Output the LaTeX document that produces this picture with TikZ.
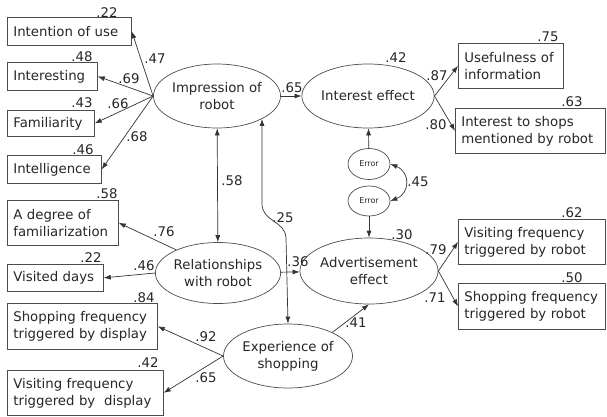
\documentclass[tikz,border=0pt]{standalone}
\usepackage{fontspec}
\setmainfont{DejaVu Sans}
\usetikzlibrary{shapes.geometric,arrows.meta,calc}
\tikzset{
  lat/.style={draw=black!70, line width=0.7pt, ellipse, inner sep=0pt, align=center, minimum width=122pt, minimum height=64pt},
  obs/.style 2 args={draw=black!70, line width=0.7pt, anchor=north west, align=left, inner xsep=6pt, inner ysep=0pt, text width=#1pt-12pt, minimum height=#2pt},
  err/.style={draw=black!70, line width=0.7pt, ellipse, inner sep=0pt, minimum width=42pt, minimum height=31pt, font=\fontsize{8}{9}\selectfont},
  coef/.style={inner sep=0pt},
  link/.style={->, draw=black!80, line width=0.7pt}
}
\begin{document}
\begin{tikzpicture}[x=1pt,y=-1pt,>={Latex[length=7pt,width=5pt]},text=black!85,font=\fontsize{13.3}{17}\selectfont]
  \useasboundingbox (0,0) rectangle (607,416);
  % latent variables
  \node[lat] (imp) at (217,96) {Impression of\\robot};
  \node[lat] (int) at (368,96) {Interest effect};
  \node[lat, minimum height=61pt] (rel) at (218,273) {Relationships\\with robot};
  \node[lat, minimum height=66pt] (adv) at (369,271) {Advertisement\\effect};
  \node[lat] (exp) at (288,356) {Experience of\\shopping};
  \node[err] (e1) at (369,164) {Error};
  \node[err, minimum height=30pt] (e2) at (369,201) {Error};
  % observed variables
  \node[obs={124}{28}] (use) at (7,17) {Intention of use};
  \node[obs={90}{28}] (intr) at (7,62) {Interesting};
  \node[obs={87}{26}] (fam) at (7,110) {Familiarity};
  \node[obs={94}{28}] (intel) at (7,155) {Intelligence};
  \node[obs={111}{45}] (deg) at (7,200) {A degree of\\familiarization};
  \node[obs={96}{27}] (vis) at (7,264) {Visited days};
  \node[obs={150}{46}] (shd) at (7,303) {Shopping frequency\\triggered by display};
  \node[obs={156}{45}] (vid) at (7,370) {Visiting frequency\\triggered by\ \ display};
  \node[obs={105}{45}] (usef) at (458,43) {Usefulness of\\information};
  \node[obs={150}{45}] (shop) at (455,108) {Interest to shops\\mentioned by robot};
  \node[obs={147}{45}] (visr) at (458,219) {Visiting frequency\\triggered by robot};
  \node[obs={147}{46}] (shr) at (458,283) {Shopping frequency\\triggered by robot};
  % paths
  \draw[link] (imp.west) -- (use.east);
  \draw[link] (imp.west) -- (intr.east);
  \draw[link] (imp.west) -- (fam.east);
  \draw[link] (imp.west) -- (intel.east);
  \draw[link] (imp) -- (int);
  \draw[link] (int.east) -- (usef.west);
  \draw[link] (int.east) -- (shop.west);
  \draw[link] (e1) -- (int);
  \draw[link] (e2) -- (adv);
  \draw[link,<->] (e1.east) .. controls +(20,8) and +(20,-8) .. (e2.east);
  \draw[link,<->] (imp) -- (rel);
  \draw[link,<->] (imp.-27) -- ++(0,85) .. controls +(0,18) and +(0,-18) .. ($(exp.north)+(-2,-85)$) -- (exp.north);
  \draw[link] (rel) -- (adv);
  \draw[link] (rel.151) -- (deg.east);
  \draw[link] (rel.west) -- (vis.east);
  \draw[link] (exp.west) -- (shd.east);
  \draw[link] (exp.west) -- (vid.east);
  \draw[link] (exp.28) -- (adv.south);
  \draw[link] (adv.east) -- (visr.west);
  \draw[link] (adv.east) -- (shr.west);
  % coefficients
  \node[coef] (r-use) at (107,13) {.22};
  \node[coef] (r-intr) at (82,57) {.48};
  \node[coef] (r-fam) at (82,103) {.43};
  \node[coef] (r-intel) at (83,150) {.46};
  \node[coef] (r-deg) at (107,194) {.58};
  \node[coef] (r-vis) at (91,258) {.22};
  \node[coef] (r-shd) at (144,298) {.84};
  \node[coef] (r-vid) at (148,363) {.42};
  \node[coef] (r-usef) at (548,37) {.75};
  \node[coef] (r-shop) at (572,102) {.63};
  \node[coef] (r-visr) at (572,213) {.62};
  \node[coef] (r-shr) at (572,278) {.50};
  \node[coef] (r-int) at (396,58) {.42};
  \node[coef] (r-adv) at (402,235) {.30};
  \node[coef] (b-use) at (155,59) {.47};
  \node[coef] (b-intr) at (129,79) {.69};
  \node[coef] (b-fam) at (118,104) {.66};
  \node[coef] (b-intel) at (137,137) {.68};
  \node[coef] (b-int) at (292,88) {.65};
  \node[coef] (b-usef) at (437,76) {.87};
  \node[coef] (b-shop) at (436,125) {.80};
  \node[coef] (c-err) at (418,182) {.45};
  \node[coef] (c-rel) at (232,181) {.58};
  \node[coef] (c-exp) at (283,218) {.25};
  \node[coef] (b-adv) at (298,262) {.36};
  \node[coef] (b-deg) at (164,232) {.76};
  \node[coef] (b-vis) at (144,266) {.46};
  \node[coef] (b-shd) at (206,337) {.92};
  \node[coef] (b-vid) at (206,378) {.65};
  \node[coef] (b-exp) at (356,323) {.41};
  \node[coef] (b-visr) at (436,250) {.79};
  \node[coef] (b-shr) at (435,298) {.71};
\end{tikzpicture}
\end{document}
